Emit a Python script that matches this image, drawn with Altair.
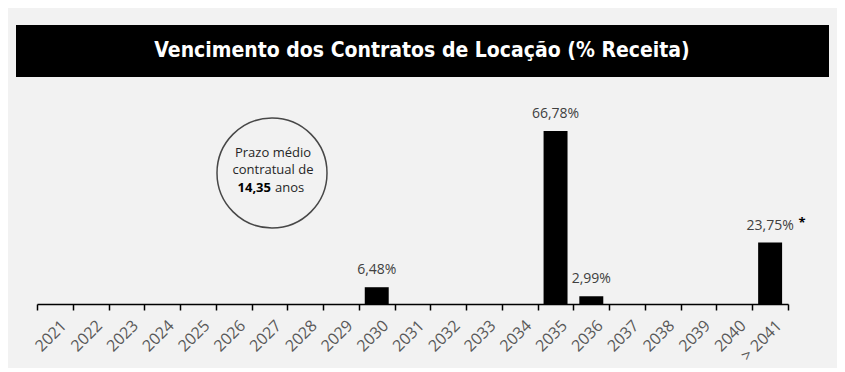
import altair as alt
import pandas as pd

years = ["2021", "2022", "2023", "2024", "2025", "2026", "2027", "2028", "2029", "2030",
         "2031", "2032", "2033", "2034", "2035", "2036", "2037", "2038", "2039", "2040", ">  2041"]
values = [0, 0, 0, 0, 0, 0, 0, 0, 0, 6.48,
          0, 0, 0, 0, 66.78, 2.99, 0, 0, 0, 0, 23.75]
footnote_marks = ["", "", "", "", "", "", "", "", "", "",
                  "", "", "", "", "", "", "", "", "", "", "*"]

title_text = "Vencimento dos Contratos de Locação (% Receita)"
circle_line1 = "Prazo médio"
circle_line2 = "contratual de"
avg_term = "14,35"
avg_unit = "anos"

labels = [(f"{v:.2f}".replace(".", ",") + "%") if v > 0 else "" for v in values]
df = pd.DataFrame({"year": years, "value": values, "label": labels, "star": footnote_marks})

W, H = 751, 204
BG = "#f2f2f2"

x = alt.X("year:N", sort=None, title=None,
          scale=alt.Scale(paddingInner=0, paddingOuter=0),
          axis=alt.Axis(labelAngle=-45, labelFont="Open Sans", labelFontSize=16,
                        labelColor="#595959", domainColor="black", domainWidth=1.5,
                        tickColor="black", tickWidth=1.5, tickSize=6, tickBand="extent",
                        labelPadding=7, labelOffset=3, grid=False))
y = alt.Y("value:Q", title=None, axis=None, scale=alt.Scale(domain=[0, 78.8]))

base = alt.Chart(df)

bars = base.mark_bar(color="black", width=alt.RelativeBandSize(0.67)).encode(x=x, y=y)

vals = base.mark_text(font="Open Sans", fontSize=14, color="#404040", dy=-17).encode(
    x=x, y=y, text="label:N")

stars = base.mark_text(font="Open Sans", fontSize=13, fontWeight="bold", color="black",
                       dx=32, dy=-20).encode(x=x, y=y, text="star:N")


def note(txt, xv, yv, **kw):
    d = pd.DataFrame({"t": [txt]})
    return alt.Chart(d).mark_text(**kw).encode(x=alt.value(xv), y=alt.value(yv), text="t:N")


band = alt.Chart(pd.DataFrame({"t": [title_text]})).mark_rect(color="black", clip=False).encode(
    x=alt.value(-21), x2=alt.value(792), y=alt.value(-75), y2=alt.value(-23))
title = note(title_text, 385, -49, color="white", font="DejaVu Sans Condensed",
             fontWeight="bold", fontSize=21, align="center", baseline="middle")

circle = alt.Chart(pd.DataFrame({"c": [1]})).mark_point(
    shape="circle", filled=False, color="black", strokeWidth=1.5, size=12100).encode(
    x=alt.value(235), y=alt.value(73))

txt_style = dict(font="Open Sans", fontSize=13, color="#262626", baseline="middle")
l1 = note(circle_line1, 236, 53, align="center", **txt_style)
l2 = note(circle_line2, 236, 70, align="center", **txt_style)
l3a = note(avg_term, 234, 88, align="right", font="Open Sans", fontSize=13,
           fontWeight="bold", color="black", baseline="middle")
l3b = note(avg_unit, 238, 88, align="left", **txt_style)

chart = alt.layer(band, title, bars, vals, stars, circle, l1, l2, l3a, l3b).properties(
    width=W, height=H,
    autosize=alt.AutoSizeParams(type="none"),
    padding={"left": 29, "top": 92, "right": 49, "bottom": 64},
    background=BG,
).configure_view(stroke=None)

chart.save("out.html", embed_options={"renderer": "svg", "actions": False})
